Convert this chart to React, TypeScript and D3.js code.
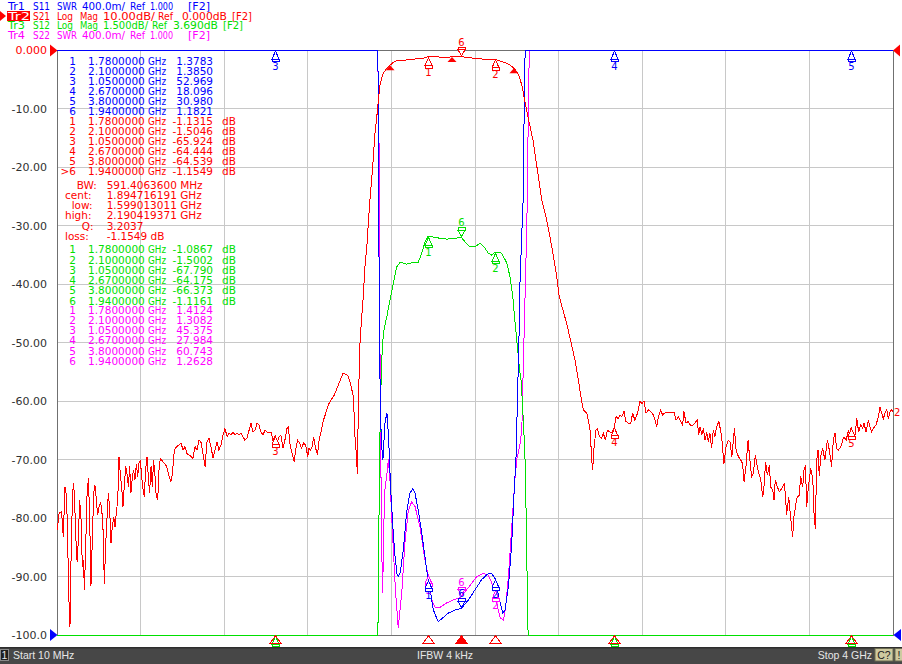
import React from 'react';
import { scaleLinear, line, range, bisector } from 'd3';

// sweep and plot frame
const WIDTH = 902;
const HEIGHT = 664;
const LEFT = 57.2;
const RIGHT = 893;
const TOP = 50;
const BOTTOM = 635;
const startMHz = 10;
const stopMHz = 4000;

const headerLines = [
    'Tr1 S11 SWR 400.0m/ Ref 1.000 [F2]',
    'Tr2 S21 Log Mag 10.00dB/ Ref 0.000dB [F2]',
    'Tr3 S12 Log Mag 1.500dB/ Ref 3.690dB [F2]',
    'Tr4 S22 SWR 400.0m/ Ref 1.000 [F2]',
];

const yTickValues = range(0, -101, -10);
const yTickLabels = ['0.000', '-10.00', '-20.00', '-30.00', '-40.00', '-50.00', '-60.00', '-70.00', '-80.00', '-90.00', '-100.0'];

// markers (MHz) and readouts
const markerNames = ['1', '2', '3', '4', '5', '6'];
const markerFreqs = [1780, 2100, 1050, 2670, 3800, 1940];
const s11Markers = [1.3783, 1.385, 52.969, 18.096, 30.98, 1.1821];
const s21Markers = [-1.1315, -1.5046, -65.924, -64.444, -64.539, -1.1549];
const s12Markers = [-1.0867, -1.5002, -67.79, -64.175, -66.373, -1.1161];
const s22Markers = [1.4124, 1.3082, 45.375, 27.984, 60.743, 1.2628];

const bwLabels = ['BW:', 'cent:', 'low:', 'high:', 'Q:', 'loss:'];
const bwValues = ['591.4063600 MHz', '1.894716191 GHz', '1.599013011 GHz', '2.190419371 GHz', '3.2037', '-1.1549 dB'];
const bwFreqs = [1599.013011, 1894.716191, 2190.419371];

// S21 log mag (dB)
const s21: [number, number][] = [
    [10, -82.1], [19, -79.2], [31, -78.9], [39, -83.2], [47, -74.7], [55, -76.4], [60, -84.3], [66, -94.0], [71, -98.6],
    [76, -87.2], [82, -77.5], [87, -74.1], [92, -75.8], [98, -82.6], [105, -87.5], [111, -83.8], [117, -76.9], [124, -80.4],
    [130, -88.3], [135, -87.2], [140, -92.3], [146, -84.9], [152, -76.4], [159, -73.2], [165, -79.8], [171, -91.7],
    [178, -83.2], [184, -75.8], [190, -74.4], [197, -76.9], [203, -79.5], [210, -78.1], [216, -77.5], [222, -78.1],
    [229, -82.1], [235, -91.2], [241, -84.9], [248, -79.8], [254, -75.8], [260, -78.1], [267, -84.3], [273, -81.5],
    [280, -79.8], [286, -81.5], [292, -79.2], [299, -76.9], [305, -69.5], [311, -72.4], [318, -74.7], [324, -78.1],
    [330, -74.7], [337, -71.2], [343, -72.4], [350, -74.7], [356, -71.2], [362, -75.8], [369, -72.9], [375, -71.8],
    [381, -73.5], [388, -70.7], [394, -72.9], [400, -70.7], [407, -70.1], [413, -72.9], [420, -75.2], [426, -76.4],
    [432, -71.8], [439, -69.5], [445, -72.9], [451, -75.8], [458, -71.2], [464, -74.7], [470, -70.1], [477, -72.9],
    [483, -76.4], [490, -76.9], [496, -71.8], [502, -69.8], [509, -70.1], [533, -71.2], [544, -72.9], [553, -73.8],
    [560, -72.4], [569, -68.4], [580, -67.8], [592, -67.5], [601, -67.2], [611, -68.4], [620, -67.8], [630, -69.0],
    [639, -69.2], [649, -69.5], [658, -69.8], [668, -67.8], [677, -68.4], [687, -66.7], [696, -67.0], [706, -69.0],
    [716, -71.2], [725, -67.0], [735, -66.4], [744, -67.8], [754, -69.8], [763, -68.4], [773, -67.0], [782, -68.4],
    [792, -67.5], [802, -65.8], [811, -64.7], [821, -66.1], [830, -65.5], [840, -65.8], [849, -65.3], [859, -65.8],
    [868, -65.5], [878, -65.8], [887, -65.5], [897, -66.1], [906, -66.7], [916, -66.4], [926, -65.0], [935, -63.8],
    [945, -65.3], [954, -65.0], [964, -63.8], [973, -64.1], [983, -65.3], [992, -65.8], [1002, -65.0], [1011, -65.3],
    [1021, -65.5], [1031, -65.3], [1040, -66.7], [1050, -65.9], [1059, -67.2], [1069, -66.1], [1078, -65.8], [1088, -68.1],
    [1097, -66.7], [1107, -64.7], [1113, -64.4], [1123, -67.8], [1132, -69.0], [1142, -70.4], [1148, -68.4], [1158, -66.7],
    [1167, -67.2], [1177, -68.1], [1186, -67.2], [1196, -67.5], [1206, -69.5], [1212, -68.1], [1218, -68.4], [1228, -67.8],
    [1234, -66.1], [1244, -68.1], [1253, -69.2], [1260, -66.7], [1269, -65.3], [1279, -63.5], [1292, -62.1], [1304, -60.7],
    [1317, -59.8], [1333, -59.0], [1346, -57.8], [1355, -57.0], [1365, -56.1], [1374, -55.3], [1387, -55.4], [1400, -55.8],
    [1412, -57.3], [1424, -59.3], [1432, -66.4], [1438, -69.0], [1443, -72.4], [1448, -59.8], [1456, -49.6], [1464, -45.6],
    [1470, -42.7], [1479, -37.1], [1488, -33.7], [1494, -30.3], [1503, -25.6], [1511, -22.2], [1519, -18.5], [1527, -14.2],
    [1535, -11.7], [1542, -9.0], [1551, -6.0], [1559, -4.8], [1567, -4.0], [1583, -3.1], [1599, -2.6], [1615, -2.1],
    [1631, -1.8], [1679, -1.7], [1726, -1.5], [1760, -1.4], [1780, -1.13], [1837, -1.2], [1880, -1.2], [1940, -1.15],
    [1997, -1.4], [2030, -1.5], [2060, -1.7], [2100, -1.6], [2124, -1.9], [2150, -2.2], [2172, -2.6], [2190, -3.1],
    [2204, -3.7], [2216, -4.6], [2228, -6.0], [2243, -8.8], [2259, -11.7], [2283, -15.7], [2299, -19.7], [2323, -25.6],
    [2347, -29.1], [2371, -33.6], [2395, -38.8], [2407, -42.2], [2444, -47.0], [2482, -53.0], [2498, -56.4], [2514, -60.1],
    [2522, -61.5], [2538, -62.1], [2546, -63.3], [2554, -65.0], [2562, -70.1], [2566, -71.8], [2573, -67.8], [2582, -65.0],
    [2589, -64.7], [2598, -66.1], [2609, -66.4], [2617, -65.5], [2627, -66.7], [2636, -65.0], [2649, -65.3], [2660, -65.3],
    [2670, -64.4], [2678, -62.7], [2689, -63.0], [2697, -62.4], [2705, -62.7], [2716, -61.8], [2725, -63.5], [2737, -63.8],
    [2748, -63.8], [2757, -62.1], [2768, -63.3], [2780, -62.1], [2792, -60.1], [2802, -60.4], [2811, -60.0], [2821, -62.1],
    [2832, -61.5], [2843, -61.8], [2856, -62.4], [2864, -63.3], [2872, -64.4], [2880, -62.7], [2891, -61.5], [2900, -62.4],
    [2907, -62.1], [2920, -62.0], [2955, -61.9], [2964, -63.3], [2975, -62.7], [2986, -63.5], [2996, -64.1], [3002, -61.8],
    [3012, -63.8], [3023, -63.5], [3034, -64.2], [3047, -64.1], [3060, -63.5], [3066, -63.3], [3072, -65.8], [3079, -64.4],
    [3087, -65.8], [3095, -64.7], [3103, -66.7], [3111, -65.3], [3118, -67.0], [3126, -65.5], [3134, -68.1], [3142, -65.0],
    [3150, -66.1], [3158, -64.4], [3169, -63.5], [3182, -66.1], [3193, -70.7], [3203, -67.8], [3214, -66.7], [3222, -67.0],
    [3231, -69.5], [3243, -64.7], [3251, -68.4], [3262, -69.5], [3273, -70.1], [3282, -70.7], [3289, -73.8], [3298, -71.2],
    [3308, -66.7], [3317, -70.1], [3325, -72.9], [3333, -72.4], [3343, -69.2], [3352, -71.2], [3362, -72.7], [3368, -73.2],
    [3378, -76.4], [3384, -74.7], [3392, -70.4], [3400, -72.7], [3410, -71.0], [3416, -74.7], [3426, -75.2], [3432, -76.9],
    [3438, -73.5], [3448, -74.7], [3457, -75.5], [3464, -75.2], [3473, -74.7], [3480, -74.1], [3486, -75.8], [3492, -79.5],
    [3502, -76.4], [3511, -79.8], [3521, -83.2], [3527, -79.8], [3537, -77.5], [3543, -76.4], [3553, -76.1], [3559, -72.9],
    [3569, -74.7], [3575, -71.8], [3582, -71.0], [3588, -78.1], [3596, -74.7], [3607, -71.5], [3617, -73.2], [3623, -79.2],
    [3629, -81.8], [3636, -70.1], [3642, -68.4], [3648, -72.9], [3655, -69.5], [3664, -68.1], [3675, -70.1], [3687, -66.7],
    [3696, -68.4], [3707, -71.2], [3715, -66.7], [3723, -65.5], [3731, -68.1], [3739, -68.4], [3750, -67.9], [3760, -66.7],
    [3766, -66.1], [3776, -66.7], [3787, -65.0], [3795, -66.1], [3800, -64.5], [3811, -66.4], [3819, -65.8], [3827, -63.0],
    [3836, -65.3], [3846, -64.1], [3855, -64.7], [3862, -63.8], [3871, -65.3], [3882, -63.3], [3890, -64.4], [3898, -65.3],
    [3906, -64.7], [3919, -64.1], [3930, -62.7], [3938, -61.0], [3946, -62.1], [3954, -63.0], [3962, -62.1], [3970, -61.5],
    [3978, -63.0], [3986, -61.8], [3994, -61.5], [4000, -61.8],
];

// S12 log mag (dB), own 1.5 dB/div scale
const s12: [number, number][] = [
    [10, -80], [500, -72], [1050, -67.79], [1400, -58], [1500, -30], [1541, -14], [1549, -6.7], [1554, -5.2], [1560, -4.2],
    [1567, -3.57], [1583, -3.16], [1599, -2.72], [1615, -2.28], [1631, -1.87], [1647, -1.75], [1679, -1.8], [1702, -1.77],
    [1734, -1.75], [1750, -1.52], [1766, -1.23], [1780, -1.0867], [1798, -1.1], [1829, -1.13], [1872, -1.16], [1940, -1.1161],
    [1957, -1.23], [1981, -1.36], [2005, -1.36], [2028, -1.26], [2048, -1.36], [2068, -1.52], [2085, -1.57], [2100, -1.5002],
    [2111, -1.49], [2132, -1.52], [2156, -1.77], [2172, -2.13], [2185, -2.64], [2196, -3.31], [2204, -3.75], [2216, -4.44],
    [2224, -4.77], [2230, -5.28], [2238, -6.13], [2245, -7.0], [2252, -9.4], [2258, -14], [2300, -30], [2670, -64.175],
    [3800, -66.373], [4000, -62],
];

// S11 SWR
const s11: [number, number][] = [
    [10, 40], [1050, 52.969], [1500, 30], [1541, 8], [1547, 3.4], [1552, 2.6], [1558, 2.3], [1565, 2.2], [1575, 2.45],
    [1584, 2.52], [1592, 2.35], [1602, 2.0], [1612, 1.75], [1622, 1.55], [1632, 1.42], [1638, 1.4], [1648, 1.43],
    [1662, 1.58], [1679, 1.85], [1694, 1.97], [1707, 2.0], [1718, 1.97], [1734, 1.85], [1750, 1.7], [1766, 1.53],
    [1780, 1.3783], [1790, 1.31], [1806, 1.17], [1829, 1.09], [1853, 1.12], [1877, 1.15], [1909, 1.17], [1940, 1.1821],
    [1973, 1.24], [2005, 1.31], [2037, 1.38], [2068, 1.42], [2084, 1.42], [2100, 1.385], [2121, 1.24], [2137, 1.15],
    [2148, 1.17], [2164, 1.33], [2180, 1.63], [2191, 1.97], [2200, 2.2], [2207, 2.6], [2215, 3.06], [2219, 3.4],
    [2228, 3.75], [2235, 4.0], [2240, 4.7], [2244, 5.5], [2250, 8], [2670, 18.096], [3800, 30.98], [4000, 35],
];

// S22 SWR
const s22: [number, number][] = [
    [10, 40], [1050, 45.375], [1500, 30], [1540, 8], [1548, 4.2], [1551, 2.94], [1555, 2.2], [1559, 1.6], [1564, 1.29],
    [1568, 1.7], [1575, 2.0], [1584, 2.1], [1591, 2.2], [1599, 2.05], [1613, 1.63], [1625, 1.3], [1638, 1.05], [1655, 1.29],
    [1670, 1.63], [1686, 1.85], [1702, 1.91], [1718, 1.88], [1742, 1.74], [1766, 1.51], [1780, 1.4124], [1798, 1.24],
    [1814, 1.19], [1838, 1.19], [1870, 1.22], [1901, 1.24], [1925, 1.25], [1940, 1.2628], [1949, 1.28], [1981, 1.34],
    [2013, 1.4], [2044, 1.42], [2068, 1.41], [2092, 1.33], [2100, 1.3082], [2108, 1.22], [2124, 1.12], [2140, 1.1],
    [2151, 1.19], [2164, 1.4], [2180, 1.74], [2196, 2.08], [2204, 2.2], [2219, 2.3], [2228, 2.4], [2235, 2.83],
    [2243, 3.29], [2251, 3.75], [2254, 3.97], [2260, 4.7], [2264, 5.3], [2270, 8], [2670, 27.984], [3800, 60.743], [4000, 50],
];

const BLUE = '#0000ff';
const RED = '#ff0000';
const GREEN = '#00e000';
const MAGENTA = '#ff00ff';
const FONT = 'DejaVu Sans, Verdana, sans-serif';

// header token layout: [x, width] per token
const swrCols = [[8, 17], [33, 17], [57, 20], [82, 43], [130, 15], [150, 23], [188, 22]];
const logCols = [
    [[8, 22], [33, 17], [57, 16], [80, 18], [103, 52], [158, 15], [182, 45], [232, 20]],
    [[8, 17], [33, 17], [57, 16], [80, 18], [103, 45], [152, 15], [173, 45], [223, 20]],
];

const x = scaleLinear().domain([startMHz, stopMHz]).range([LEFT, RIGHT]);
const yDb = scaleLinear().domain([-100, 0]).range([BOTTOM, TOP]);
const yS12 = scaleLinear().domain([3.69 - 15, 3.69]).range([BOTTOM, TOP]);
const ySwr = scaleLinear().domain([1, 5]).range([BOTTOM, TOP]);

const clampY = (v: number) => Math.max(TOP, Math.min(BOTTOM, v));

const tracePath = (data: [number, number][], scale: any) =>
    line<[number, number]>()
        .x((d) => x(d[0]))
        .y((d) => clampY(scale(d[1])))(data) || '';

const bisectF = bisector((d: [number, number]) => d[0]).left;
const valueAt = (data: [number, number][], f: number) => {
    const i = bisectF(data, f);
    if (i <= 0) return data[0][1];
    if (i >= data.length) return data[data.length - 1][1];
    const a = data[i - 1];
    const b = data[i];
    return a[1] + ((b[1] - a[1]) * (f - a[0])) / (b[0] - a[0]);
};

function Marker({ cx, cy, color, label, active, showLabel }: any) {
    if (active) {
        const a = cy - 1;
        return (
            <g stroke={color} fill="white" strokeWidth={1} shapeRendering="crispEdges">
                <rect x={cx - 3.5} y={a - 8.5} width={7} height={2.5} />
                <path d={`M${cx},${a} L${cx - 3.5},${a - 6} L${cx + 3.5},${a - 6} Z`} />
                {showLabel && (
                    <text x={cx} y={a - 10} fill={color} stroke="none" fontSize={10} textAnchor="middle" fontFamily={FONT}>
                        {label}
                    </text>
                )}
            </g>
        );
    }
    const a = cy + 1;
    return (
        <g stroke={color} fill="white" strokeWidth={1} shapeRendering="crispEdges">
            <path d={`M${cx},${a} L${cx - 3.5},${a + 8} L${cx + 3.5},${a + 8} Z`} />
            <rect x={cx - 3.5} y={a + 8} width={7} height={2.5} />
            {showLabel && (
                <text x={cx} y={a + 18.5} fill={color} stroke="none" fontSize={10} textAnchor="middle" fontFamily={FONT}>
                    {label}
                </text>
            )}
        </g>
    );
}

export default function App() {
    const traces = [
        { data: s22, scale: ySwr, color: MAGENTA, markers: s22Markers },
        { data: s12, scale: yS12, color: GREEN, markers: s12Markers },
        { data: s11, scale: ySwr, color: BLUE, markers: s11Markers },
        { data: s21, scale: yDb, color: RED, markers: s21Markers },
    ];

    const tables = [
        { vals: s11Markers, color: BLUE, y0: 61.5, step: 10, unit: '', active: false },
        { vals: s21Markers, color: RED, y0: 121.5, step: 10, unit: 'dB', active: true },
        { vals: s12Markers, color: GREEN, y0: 249.5, step: 10.25, unit: 'dB', active: false },
        { vals: s22Markers, color: MAGENTA, y0: 310.5, step: 10.05, unit: '', active: false },
    ];
    const bwLabelX = [76.7, 65, 71.7, 65, 81.7, 65];
    const headerColors = [BLUE, RED, GREEN, MAGENTA];
    const vGrid = range(1, 10).map((i) => LEFT + ((RIGHT - LEFT) * i) / 10);

    return (
        <svg
            width={WIDTH}
            height={HEIGHT}
            style={{ position: 'absolute', left: 0, top: 0, background: 'white' }}
            fontFamily={FONT}
        >
            <rect x={0} y={0} width={WIDTH} height={HEIGHT} fill="white" />

            {/* grid */}
            <g stroke="#c8c8c8" strokeWidth={1} shapeRendering="crispEdges">
                {yTickValues.slice(1, -1).map((v) => (
                    <line key={v} x1={LEFT} x2={RIGHT} y1={yDb(v)} y2={yDb(v)} />
                ))}
                {vGrid.map((gx, i) => (
                    <line key={i} x1={gx} x2={gx} y1={TOP} y2={BOTTOM} />
                ))}
            </g>
            <rect x={LEFT} y={TOP} width={RIGHT - LEFT} height={BOTTOM - TOP} fill="none" stroke="#707070" shapeRendering="crispEdges" />

            {/* traces */}
            {traces.map((t, i) => (
                <path key={i} d={tracePath(t.data, t.scale)} fill="none" stroke={t.color} strokeWidth={1} shapeRendering="crispEdges" />
            ))}

            {/* trace markers; labels of markers pinned to the frame are hidden behind others */}
            {traces.map((t, ti) => (
                <g key={ti}>
                    {markerFreqs.map((f, i) => {
                        const raw = t.scale(t.markers[i]);
                        const pinned = raw < TOP || raw > BOTTOM;
                        return (
                            <Marker
                                key={i}
                                cx={Math.round(x(f)) + 0.5}
                                cy={clampY(raw)}
                                color={t.color}
                                label={markerNames[i]}
                                active={i === 5}
                                showLabel={!pinned || t.color === BLUE}
                            />
                        );
                    })}
                </g>
            ))}

            {/* bandwidth search markers */}
            {bwFreqs.map((f, i) => {
                const cx = x(f);
                const cy = yDb(valueAt(s21, f));
                return <path key={i} d={`M${cx},${cy} L${cx - 4.5},${cy + 5} L${cx + 4.5},${cy + 5} Z`} fill={RED} />;
            })}

            {/* marker tables */}
            {tables.map((t, ti) => (
                <g key={ti} fill={t.color} fontSize={10.5}>
                    {t.vals.map((v, i) => {
                        const by = t.y0 + i * t.step + 3.8;
                        return (
                            <g key={i}>
                                <text x={76} y={by} textAnchor="end">
                                    {(t.active && i === 5 ? '>' : '') + markerNames[i]}
                                </text>
                                <text x={88} y={by}>{(markerFreqs[i] / 1000).toFixed(7)}</text>
                                <text x={148} y={by} textLength={18} lengthAdjust="spacingAndGlyphs">GHz</text>
                                <text x={213} y={by} textAnchor="end">{v.toPrecision(5)}</text>
                                {t.unit && <text x={222} y={by}>{t.unit}</text>}
                            </g>
                        );
                    })}
                </g>
            ))}
            <g fill={RED} fontSize={10.5}>
                {bwLabels.map((l, i) => (
                    <g key={i}>
                        <text x={bwLabelX[i]} y={185 + i * 10.2 + 3.8}>{l}</text>
                        <text x={106.7} y={185 + i * 10.2 + 3.8}>{bwValues[i]}</text>
                    </g>
                ))}
            </g>

            {/* y labels and reference indicators */}
            {yTickValues.map((v, i) => (
                <text key={v} x={47} y={yDb(v) + 4} textAnchor="end" fontSize={11} fill={i === 0 ? RED : '#303030'}>
                    {yTickLabels[i]}
                </text>
            ))}
            <path d={`M50,44.5 L57.5,50.5 L50,56.5 Z`} fill={RED} />
            <path d={`M900,44.5 L893,50.5 L900,56.5 Z`} fill={RED} />
            <path d={`M50,629 L57.5,635 L50,641 Z`} fill={BLUE} />
            <path d={`M901,629 L893.5,635 L901,641 Z`} fill={BLUE} />
            <text x={894} y={yDb(s21[s21.length - 1][1]) + 4} fill={RED} fontSize={10}>2</text>

            {/* header */}
            <path d="M0,11 L6,16 L0,21 Z" fill={RED} />
            <rect x={7} y={11} width={23} height={10} fill={RED} />
            {headerLines.map((l, r) => {
                const toks = l.split(' ');
                const cols: any = r === 0 || r === 3 ? swrCols : logCols[r - 1];
                const by = [9.5, 19.5, 29, 38.5][r];
                return (
                    <g key={r} fontSize={10.5}>
                        {toks.map((tk, k) => (
                            <text
                                key={k}
                                x={cols[k][0]}
                                y={by}
                                textLength={cols[k][1]}
                                lengthAdjust="spacingAndGlyphs"
                                fill={r === 1 && k === 0 ? 'white' : headerColors[r]}
                            >
                                {tk}
                            </text>
                        ))}
                    </g>
                );
            })}

            {/* stimulus marker indicators */}
            {markerFreqs.map((f, i) => {
                const cx = Math.round(x(f)) + 0.5;
                return (
                    <path
                        key={i}
                        d={`M${cx},636 L${cx - 5.5},643 L${cx + 5.5},643 Z`}
                        fill={i === 5 ? RED : 'none'}
                        stroke={RED}
                        strokeWidth={1}
                        shapeRendering="crispEdges"
                    />
                );
            })}

            {/* status bar */}
            <rect x={0} y={647} width={WIDTH} height={17} fill="#474747" />
            <rect x={0} y={647} width={WIDTH} height={1.5} fill="#2e2e2e" />
            <rect x={0.5} y={649.5} width={8} height={11} fill="#1e1e1e" stroke="#8a8a8a" />
            <g fontFamily="Liberation Sans, Arial, sans-serif" fontSize={10.5} fill="#e6e6e6">
                <text x={4.5} y={658.5} textAnchor="middle">1</text>
                <text x={13} y={658.5}>Start 10 MHz</text>
                <text x={445} y={658.5} textAnchor="middle">IFBW 4 kHz</text>
                <text x={872} y={658.5} textAnchor="end">Stop 4 GHz</text>
            </g>
            <rect x={875} y={648.5} width={18} height={12.5} fill="#cfcaa0" stroke="#6b6b50" />
            <rect x={895} y={648.5} width={8} height={12.5} fill="#cfcaa0" stroke="#6b6b50" />
            <g fontFamily="Liberation Sans, Arial, sans-serif" fontSize={10.5} fill="#202020">
                <text x={884} y={658.5} textAnchor="middle">C?</text>
                <text x={899} y={658.5} textAnchor="middle">!</text>
            </g>
        </svg>
    );
}
